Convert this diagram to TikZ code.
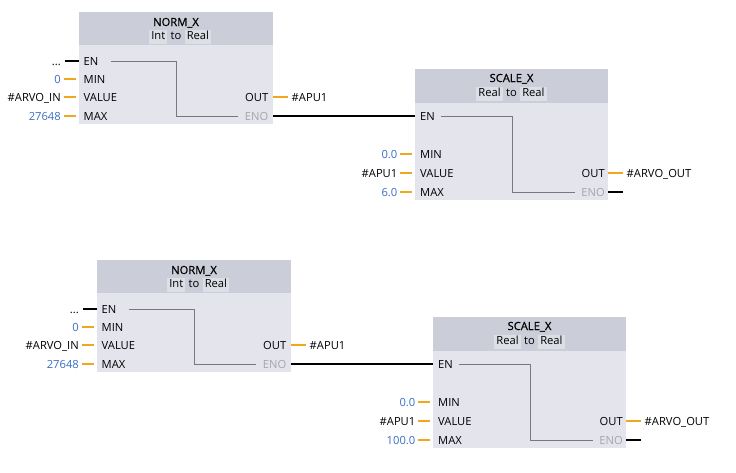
\documentclass[tikz,border=0pt]{standalone}
\usepackage{fontspec}
\setmainfont{Open Sans}
\newfontfamily\titlefont[FakeBold=0.6]{Open Sans}
\usetikzlibrary{positioning}

\definecolor{headgray}{RGB}{203,205,216}
\definecolor{bodygray}{RGB}{228,229,236}
\definecolor{typegray}{RGB}{221,223,230}
\definecolor{pinorange}{RGB}{242,166,30}
\definecolor{valblue}{RGB}{58,110,196}
\definecolor{enogray}{RGB}{165,166,172}
\definecolor{linegray}{RGB}{120,120,126}

\tikzset{
  txt/.style={font=\fontsize{11.2}{13}\selectfont, inner sep=0pt, text height=8pt, text depth=0pt},
  title/.style={txt, font=\titlefont\fontsize{11.2}{13}\selectfont, anchor=base},
  typebox/.style={txt, fill=typegray, inner xsep=2pt, inner ysep=2pt, text depth=2.5pt},
  pinl/.style={txt, anchor=west},
  pinr/.style={txt, anchor=east},
  tagl/.style={txt, anchor=east},
  tagr/.style={txt, anchor=west},
  blockhead/.style={anchor=north west, fill=headgray, inner sep=0pt, outer sep=0pt},
  blockbody/.style={fill=bodygray, inner sep=0pt, outer sep=0pt},
  wire/.style={line width=1.8pt, black},
  owire/.style={line width=1.6pt, pinorange},
  inner/.style={line width=0.7pt, linegray},
}

\begin{document}
\begin{tikzpicture}[x=1pt,y=-1pt]
\useasboundingbox (0,0) rectangle (736,472);

\foreach \s/\dx/\dy/\mx in {a/0/0/6.0, b/18/248/100.0}{
\begin{scope}[shift={(\dx,\dy)}]

% NORM_X box
\node[blockhead, minimum width=194pt, minimum height=33pt] (normh\s) at (79,12) {};
\node[blockbody, minimum width=194pt, minimum height=79pt, below=0pt of normh\s] (norm\s) {};
\node[title] (normt\s) at (176,26) {NORM\_X};
\node[txt, anchor=base] (normto\s) at (176,39.5) {to};
\node[typebox, anchor=base east] (normin\s) at ([xshift=-3pt]normto\s.base west) {Int};
\node[typebox, anchor=base west] (normout\s) at ([xshift=3pt]normto\s.base east) {Real};

% NORM_X pins
\node[pinl] (en\s) at (83.5,61) {EN};
\node[pinl] (min\s) at (83.5,79) {MIN};
\node[pinl] (val\s) at (83.5,97) {VALUE};
\node[pinl] (max\s) at (83.5,116) {MAX};
\node[pinr] (out\s) at (268.5,97) {OUT};
\node[pinr, text=enogray] (eno\s) at (268.5,116) {ENO};

\node[tagl] (ndots\s) at (61,61) {...};
\node[tagl, text=valblue] (nmin\s) at (61,79) {0};
\node[tagl] (nval\s) at (61,97) {\#ARVO\_IN};
\node[tagl, text=valblue] (nmax\s) at (61,116) {27648};
\node[tagr] (nout\s) at (291.5,97) {\#APU1};

\draw[wire] ([xshift=4pt]ndots\s.east) -- (en\s -| norm\s.west);
\foreach \p in {min,val,max}
  \draw[owire] ([xshift=2.5pt]n\p\s.east) -- ([xshift=-3pt]\p\s -| norm\s.west);
\draw[owire] (out\s -| norm\s.east) -- ([xshift=-4pt]nout\s.west);

\coordinate (nk\s) at (176,0);
\draw[inner] ([xshift=12pt]en\s.east) -- (en\s -| nk\s) |- ([xshift=-7pt]eno\s.west);

% SCALE_X box
\node[blockhead, minimum width=193pt, minimum height=34pt] (scaleh\s) at (415,69) {};
\node[blockbody, minimum width=193pt, minimum height=97pt, below=0pt of scaleh\s] (scale\s) {};
\node[title] (scalet\s) at (511.5,82) {SCALE\_X};
\node[txt, anchor=base] (scaleto\s) at (511.5,96.5) {to};
\node[typebox, anchor=base east] (scalein\s) at ([xshift=-3pt]scaleto\s.base west) {Real};
\node[typebox, anchor=base west] (scaleout\s) at ([xshift=3pt]scaleto\s.base east) {Real};

% SCALE_X pins
\node[pinl] (sen\s) at (420,116) {EN};
\node[pinl] (smin\s) at (420,154) {MIN};
\node[pinl] (sval\s) at (420,173) {VALUE};
\node[pinl] (smax\s) at (420,192) {MAX};
\node[pinr] (sout\s) at (605,173) {OUT};
\node[pinr, text=enogray] (seno\s) at (605,192) {ENO};

\node[tagl, text=valblue] (tmin\s) at (397.5,154) {0.0};
\node[tagl] (tval\s) at (397.5,173) {\#APU1};
\node[tagl, text=valblue] (tmax\s) at (397.5,192) {\mx};
\node[tagr] (tout\s) at (626.5,173) {\#ARVO\_OUT};

\foreach \p in {min,val,max}
  \draw[owire] ([xshift=2.5pt]t\p\s.east) -- ([xshift=-3pt]s\p\s -| scale\s.west);
\draw[owire] (sout\s -| scale\s.east) -- ([xshift=-4pt]tout\s.west);

\coordinate (sk\s) at (512,0);
\draw[inner] ([xshift=6pt]sen\s.east) -- (sen\s -| sk\s) |- ([xshift=-6pt]seno\s.west);

% ENO -> EN
\draw[wire] (eno\s -| norm\s.east) -- (sen\s -| scale\s.west);
\coordinate (send\s) at (623,192);
\draw[wire] (seno\s -| scale\s.east) -- (send\s);

\end{scope}
}
\end{tikzpicture}
\end{document}
